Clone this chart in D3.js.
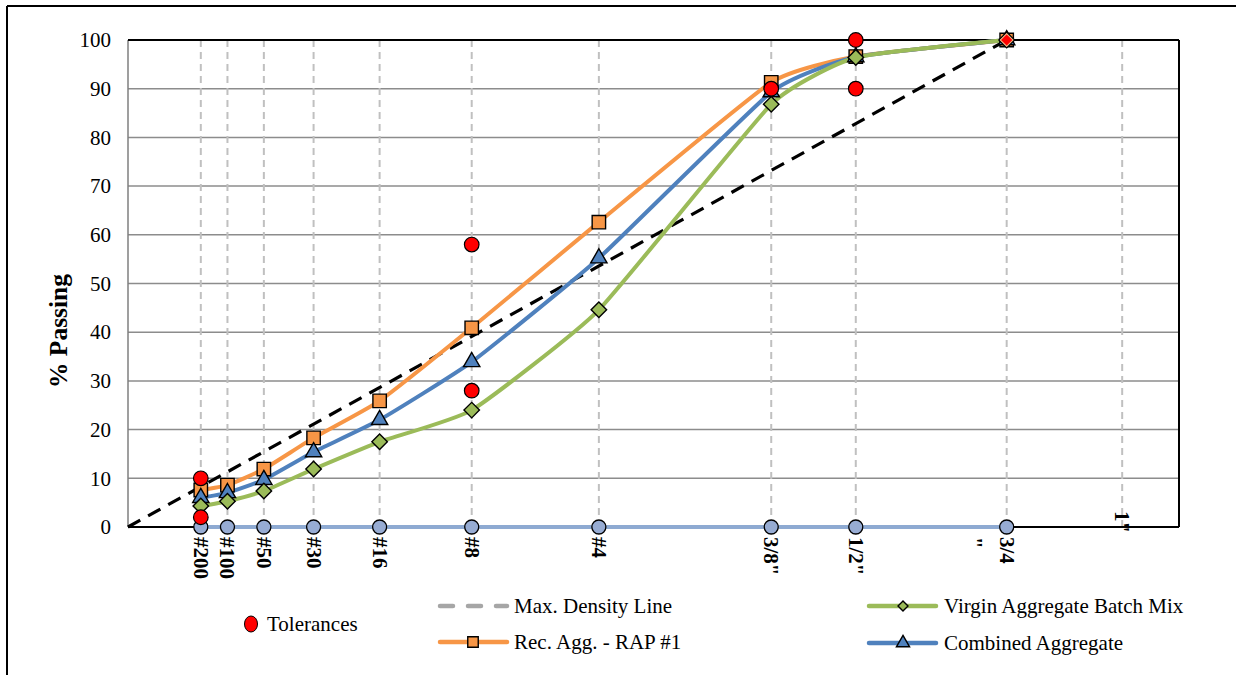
<!DOCTYPE html>
<html>
<head>
<meta charset="utf-8">
<script src="https://cdn.jsdelivr.net/npm/d3@7/dist/d3.min.js"></script>
<style>
  html, body { margin: 0; padding: 0; background: #fff; }
  svg { display: block; font-family: "Liberation Serif", "Times New Roman", serif; }
</style>
</head>
<body>
<svg id="chart" width="1236" height="675"></svg>
<script>
// Sieve sizes (mm) and their labels; x axis is sieve size raised to the 0.45 power
const sieveLabels = ["#200", "#100", "#50", "#30", "#16", "#8", "#4", "3/8\"", "1/2\"", "3/4\n\"", "1\""];
const sieveSizes  = [0.075, 0.15, 0.3, 0.6, 1.18, 2.36, 4.75, 9.5, 12.5, 19, 25];

// Gradations, % passing (from #200 up to 3/4")
const virginMix  = [4.3, 5.3, 7.4, 11.9, 17.5, 24.0, 44.6, 86.8, 96.4, 100];
const rapAgg     = [7.6, 8.6, 11.9, 18.3, 25.9, 40.9, 62.6, 91.3, 96.6, 100];
const combinedAg = [6.0, 7.0, 9.7, 15.4, 22.0, 33.9, 55.2, 89.3, 96.5, 100];

// Tolerance points [sieve index, % passing]
const toleranceSieve = [0, 0, 5, 5, 7, 8, 8];
const toleranceValue = [10, 2, 58, 28, 90, 100, 90];
// Control point at 3/4" (100%)
const controlSieve = 9;
const controlValue = 100;

// Max density line: 0 to 100% at the nominal max size (3/4")
const maxDensitySizes = [0, 19];
const maxDensityValues = [0, 100];

const yTicks = [0, 10, 20, 30, 40, 50, 60, 70, 80, 90, 100];

const svg = d3.select("#chart");
const pLeft = 128, pRight = 1179, pTop = 40, pBottom = 527;

const pw = d => Math.pow(d, 0.45);
const x = d3.scaleLinear().domain([0, 4.5]).range([pLeft, pRight]);
const y = d3.scaleLinear().domain([0, 100]).range([pBottom, pTop]);
const xs = d => x(pw(d));

// symbol helpers: diamond drawn as a square turned 45 degrees
const sq = s => d3.symbol().type(d3.symbolSquare).size(s)();
const markerPath = (type, s) => type === "diamond" ? sq(s) : d3.symbol().type(type).size(s)();
const markerRot = type => type === "diamond" ? " rotate(45)" : "";

// outer frame (left and top edges)
svg.append("line").attr("x1", 7).attr("x2", 7).attr("y1", 6).attr("y2", 675)
  .attr("stroke", "#000").attr("stroke-width", 2);
svg.append("line").attr("x1", 7).attr("x2", 1236).attr("y1", 6).attr("y2", 6)
  .attr("stroke", "#000").attr("stroke-width", 2);

// horizontal gridlines
svg.append("g").selectAll("line").data(yTicks.filter(v => v > 0 && v < 100)).join("line")
  .attr("x1", pLeft).attr("x2", pRight)
  .attr("y1", d => y(d)).attr("y2", d => y(d))
  .attr("stroke", "#8c8c8c").attr("stroke-width", 1.5);

// vertical dashed lines at each sieve
svg.append("g").selectAll("line").data(sieveSizes).join("line")
  .attr("x1", d => xs(d)).attr("x2", d => xs(d))
  .attr("y1", pTop).attr("y2", pBottom)
  .attr("stroke", "#c0c0c0").attr("stroke-width", 2)
  .attr("stroke-dasharray", "7,5");

// plot frame
svg.append("line").attr("x1", pLeft).attr("x2", pLeft).attr("y1", pTop).attr("y2", pBottom)
  .attr("stroke", "#7f7f7f").attr("stroke-width", 1.5);
svg.append("line").attr("x1", pLeft).attr("x2", pRight).attr("y1", pTop).attr("y2", pTop)
  .attr("stroke", "#000").attr("stroke-width", 2);
svg.append("line").attr("x1", pRight).attr("x2", pRight).attr("y1", pTop).attr("y2", pBottom)
  .attr("stroke", "#000").attr("stroke-width", 2);
svg.append("line").attr("x1", pLeft).attr("x2", pRight).attr("y1", pBottom).attr("y2", pBottom)
  .attr("stroke", "#000").attr("stroke-width", 2);

// y axis labels
const yAxis = d3.axisLeft(y).tickValues(yTicks).tickSize(0).tickPadding(17);
const yg = svg.append("g").attr("transform", `translate(${pLeft},0)`).call(yAxis);
yg.select(".domain").remove();
yg.selectAll("text").attr("font-family", "Liberation Serif").attr("font-size", 21).attr("fill", "#000");

// y axis title
svg.append("text")
  .attr("transform", "translate(67,331) rotate(-90)")
  .attr("text-anchor", "middle")
  .attr("font-size", 25.5).attr("font-weight", "bold")
  .text("% Passing");

// x axis sieve labels (rotated)
const xl = svg.append("g");
sieveLabels.forEach((lab, i) => {
  const lines = lab.split("\n");
  const isLast = i === sieveLabels.length - 1;
  const t = xl.append("text")
    .attr("transform", `translate(${xs(sieveSizes[i]) - 7},${isLast ? 511 : 537}) rotate(90)`)
    .attr("font-size", 21).attr("font-weight", "bold");
  lines.forEach((ln, j) => {
    t.append("tspan").attr("x", 0).attr("dy", j === 0 ? 0 : "1.5em").text(ln);
  });
});

// baseline sieve markers at 0%
const baseSizes = sieveSizes.slice(0, 10);
const line = d3.line();
svg.append("path")
  .attr("d", line(baseSizes.map(d => [xs(d), y(0)])))
  .attr("fill", "none").attr("stroke", "#8eaad2").attr("stroke-width", 4);
svg.append("g").selectAll("circle").data(baseSizes).join("circle")
  .attr("cx", d => xs(d)).attr("cy", y(0)).attr("r", 7)
  .attr("fill", "#97acd3").attr("stroke", "#000").attr("stroke-width", 1.3);

// max density line
svg.append("path")
  .attr("d", line(maxDensitySizes.map((d, i) => [xs(d), y(maxDensityValues[i])])))
  .attr("fill", "none").attr("stroke", "#000").attr("stroke-width", 3.2)
  .attr("stroke-dasharray", "14,9");

// gradation curves
const series = [
  { vals: rapAgg, color: "#f79646", sym: d3.symbolSquare, size: 180 },
  { vals: combinedAg, color: "#4f81bd", sym: d3.symbolTriangle, size: 115 },
  { vals: virginMix, color: "#9bbb59", sym: "diamond", size: 120 }
];
const curve = d3.line().curve(d3.curveCardinal.tension(0.55));
series.forEach(s => {
  svg.append("path")
    .attr("d", curve(s.vals.map((v, i) => [xs(sieveSizes[i]), y(v)])))
    .attr("fill", "none").attr("stroke", s.color).attr("stroke-width", 4)
    .attr("stroke-linejoin", "round");
});
series.forEach(s => {
  svg.append("g").selectAll("path").data(s.vals).join("path")
    .attr("transform", (v, i) => `translate(${xs(sieveSizes[i])},${y(v)})${markerRot(s.sym)}`)
    .attr("d", markerPath(s.sym, s.size))
    .attr("fill", s.color).attr("stroke", "#000").attr("stroke-width", 1.4);
});

// tolerances
svg.append("g").selectAll("circle").data(toleranceValue).join("circle")
  .attr("cx", (v, i) => xs(sieveSizes[toleranceSieve[i]]))
  .attr("cy", v => y(v)).attr("r", 7.3)
  .attr("fill", "#ff0000").attr("stroke", "#000").attr("stroke-width", 1.2);
svg.append("path")
  .attr("transform", `translate(${xs(sieveSizes[controlSieve])},${y(controlValue)}) rotate(45)`)
  .attr("d", sq(80))
  .attr("fill", "#ff0000").attr("stroke", "#f4b183").attr("stroke-width", 1);

// legend
const lg = svg.append("g").attr("font-size", 21);
lg.append("ellipse").attr("cx", 251).attr("cy", 624).attr("rx", 6.5).attr("ry", 8)
  .attr("fill", "#ff0000").attr("stroke", "#000").attr("stroke-width", 1);
lg.append("text").attr("x", 267).attr("y", 631).text("Tolerances");

lg.append("line").attr("x1", 440).attr("x2", 507).attr("y1", 606).attr("y2", 606)
  .attr("stroke", "#a6a6a6").attr("stroke-width", 4.5).attr("stroke-dasharray", "13,15")
  .attr("stroke-linecap", "round");
lg.append("text").attr("x", 514).attr("y", 613).text("Max. Density Line");

lg.append("line").attr("x1", 440).attr("x2", 507).attr("y1", 642).attr("y2", 642)
  .attr("stroke", "#f79646").attr("stroke-width", 4.5).attr("stroke-linecap", "round");
lg.append("path").attr("transform", "translate(473,642)")
  .attr("d", sq(110))
  .attr("fill", "#f79646").attr("stroke", "#000").attr("stroke-width", 1.4);
lg.append("text").attr("x", 514).attr("y", 649).text("Rec. Agg. - RAP #1");

lg.append("line").attr("x1", 869).attr("x2", 936).attr("y1", 606).attr("y2", 606)
  .attr("stroke", "#9bbb59").attr("stroke-width", 4.5).attr("stroke-linecap", "round");
lg.append("path").attr("transform", "translate(903,606) rotate(45)")
  .attr("d", sq(50))
  .attr("fill", "#9bbb59").attr("stroke", "#000").attr("stroke-width", 1.4);
lg.append("text").attr("x", 944).attr("y", 613).text("Virgin Aggregate Batch Mix");

lg.append("line").attr("x1", 869).attr("x2", 936).attr("y1", 643).attr("y2", 643)
  .attr("stroke", "#4f81bd").attr("stroke-width", 4.5).attr("stroke-linecap", "round");
lg.append("path").attr("transform", "translate(903,643)")
  .attr("d", d3.symbol().type(d3.symbolTriangle).size(75))
  .attr("fill", "#4f81bd").attr("stroke", "#000").attr("stroke-width", 1.4);
lg.append("text").attr("x", 944).attr("y", 650).text("Combined Aggregate");
</script>
</body>
</html>
